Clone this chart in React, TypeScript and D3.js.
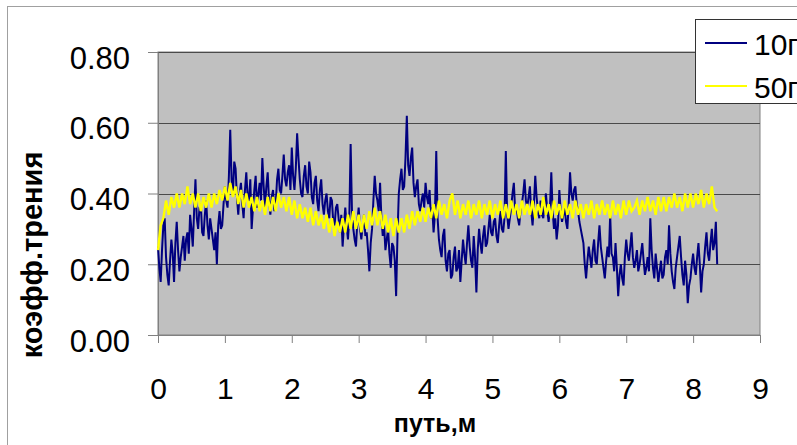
import React, { useEffect, useRef } from "react";
import * as d3 from "d3";

// distance between samples along the path, m
const step10 = 0.02;
const step50 = 0.04;
const seriesNames = ["10г", "50г"];
const seriesColors = ["#000080", "#FFFF00"];
const xTicks = [0, 1, 2, 3, 4, 5, 6, 7, 8, 9];
const yTicks = [0, 0.2, 0.4, 0.6, 0.8];

// коэфф. трения, нагрузка 10г (20 samples per 0.4 m)
const friction10 = [
  0.25, 0.19, 0.15, 0.24, 0.31, 0.33, 0.22, 0.17, 0.14, 0.21, 0.27, 0.23, 0.15, 0.26, 0.32, 0.24, 0.18, 0.22, 0.25, 0.28,
  0.21, 0.27, 0.29, 0.23, 0.34, 0.30, 0.25, 0.35, 0.44, 0.33, 0.30, 0.36, 0.37, 0.29, 0.28, 0.34, 0.38, 0.31, 0.27, 0.33,
  0.30, 0.27, 0.24, 0.29, 0.20, 0.31, 0.35, 0.30, 0.31, 0.37, 0.42, 0.38, 0.36, 0.45, 0.58, 0.44, 0.40, 0.49, 0.47, 0.39,
  0.34, 0.40, 0.43, 0.37, 0.33, 0.41, 0.46, 0.39, 0.38, 0.44, 0.30, 0.36, 0.41, 0.45, 0.36, 0.40, 0.43, 0.38, 0.50, 0.42,
  0.36, 0.42, 0.46, 0.38, 0.34, 0.39, 0.41, 0.35, 0.37, 0.44, 0.47, 0.41, 0.40, 0.45, 0.51, 0.44, 0.42, 0.46, 0.48, 0.41,
  0.53, 0.45, 0.41, 0.47, 0.57, 0.50, 0.44, 0.40, 0.39, 0.45, 0.48, 0.42, 0.40, 0.49, 0.46, 0.39, 0.37, 0.43, 0.45, 0.38,
  0.35, 0.41, 0.44, 0.37, 0.34, 0.38, 0.40, 0.35, 0.33, 0.39, 0.38, 0.32, 0.31, 0.36, 0.37, 0.33, 0.29, 0.34, 0.25, 0.31,
  0.36, 0.31, 0.27, 0.33, 0.54, 0.35, 0.30, 0.27, 0.25, 0.32, 0.36, 0.30, 0.27, 0.31, 0.34, 0.28, 0.29, 0.24, 0.18, 0.26,
  0.30, 0.38, 0.45, 0.40, 0.38, 0.35, 0.43, 0.33, 0.28, 0.31, 0.24, 0.27, 0.30, 0.23, 0.19, 0.26, 0.25, 0.21, 0.11, 0.28,
  0.40, 0.44, 0.47, 0.41, 0.42, 0.50, 0.62, 0.48, 0.45, 0.50, 0.53, 0.43, 0.39, 0.42, 0.44, 0.37, 0.35, 0.38, 0.40, 0.36,
  0.43, 0.39, 0.37, 0.41, 0.33, 0.36, 0.29, 0.34, 0.52, 0.33, 0.27, 0.24, 0.22, 0.28, 0.30, 0.21, 0.18, 0.23, 0.24, 0.16,
  0.17, 0.22, 0.25, 0.18, 0.19, 0.24, 0.15, 0.21, 0.27, 0.23, 0.20, 0.26, 0.31, 0.25, 0.21, 0.19, 0.28, 0.22, 0.12, 0.24,
  0.30, 0.26, 0.23, 0.28, 0.31, 0.25, 0.26, 0.30, 0.34, 0.29, 0.28, 0.32, 0.33, 0.28, 0.26, 0.31, 0.35, 0.30, 0.29, 0.33,
  0.52, 0.34, 0.30, 0.33, 0.36, 0.40, 0.43, 0.35, 0.36, 0.33, 0.31, 0.35, 0.37, 0.40, 0.44, 0.38, 0.36, 0.39, 0.42, 0.35,
  0.31, 0.37, 0.45, 0.39, 0.35, 0.33, 0.38, 0.34, 0.33, 0.37, 0.40, 0.35, 0.32, 0.36, 0.46, 0.35, 0.30, 0.33, 0.27, 0.31,
  0.41, 0.35, 0.32, 0.34, 0.36, 0.32, 0.30, 0.37, 0.46, 0.40, 0.38, 0.41, 0.42, 0.37, 0.35, 0.32, 0.30, 0.28, 0.26, 0.20,
  0.16, 0.21, 0.25, 0.22, 0.19, 0.24, 0.27, 0.21, 0.20, 0.26, 0.31, 0.25, 0.22, 0.19, 0.16, 0.21, 0.25, 0.22, 0.34, 0.23,
  0.22, 0.18, 0.26, 0.19, 0.11, 0.17, 0.20, 0.16, 0.14, 0.22, 0.27, 0.23, 0.21, 0.25, 0.29, 0.22, 0.19, 0.21, 0.24, 0.18,
  0.20, 0.23, 0.26, 0.21, 0.17, 0.19, 0.22, 0.18, 0.33, 0.24, 0.19, 0.16, 0.23, 0.19, 0.15, 0.18, 0.21, 0.16, 0.17, 0.22,
  0.24, 0.20, 0.31, 0.23, 0.18, 0.15, 0.13, 0.19, 0.22, 0.25, 0.28, 0.22, 0.17, 0.14, 0.21, 0.17, 0.09, 0.14, 0.16, 0.20,
  0.23, 0.19, 0.17, 0.22, 0.26, 0.20, 0.12, 0.18, 0.20, 0.25, 0.29, 0.23, 0.21, 0.26, 0.30, 0.24, 0.26, 0.32, 0.20,
];

// коэфф. трения, нагрузка 50г (10 samples per 0.4 m)
const friction50 = [
  0.24, 0.31, 0.33, 0.38, 0.34, 0.39, 0.36, 0.40, 0.36, 0.40,
  0.37, 0.42, 0.37, 0.40, 0.36, 0.40, 0.35, 0.39, 0.36, 0.40,
  0.36, 0.40, 0.37, 0.41, 0.38, 0.42, 0.38, 0.43, 0.39, 0.42,
  0.37, 0.41, 0.36, 0.40, 0.36, 0.39, 0.35, 0.39, 0.35, 0.38,
  0.34, 0.39, 0.35, 0.39, 0.35, 0.40, 0.36, 0.39, 0.35, 0.39,
  0.34, 0.38, 0.33, 0.37, 0.33, 0.36, 0.32, 0.36, 0.31, 0.35,
  0.31, 0.34, 0.30, 0.34, 0.29, 0.33, 0.28, 0.32, 0.29, 0.33,
  0.29, 0.34, 0.30, 0.35, 0.30, 0.34, 0.29, 0.34, 0.30, 0.35,
  0.31, 0.36, 0.31, 0.35, 0.30, 0.34, 0.29, 0.33, 0.28, 0.33,
  0.29, 0.33, 0.29, 0.34, 0.30, 0.35, 0.31, 0.35, 0.32, 0.36,
  0.32, 0.36, 0.33, 0.37, 0.33, 0.38, 0.34, 0.37, 0.33, 0.38,
  0.40, 0.34, 0.38, 0.33, 0.37, 0.34, 0.38, 0.33, 0.37, 0.34,
  0.38, 0.33, 0.37, 0.34, 0.38, 0.33, 0.37, 0.34, 0.38, 0.33,
  0.37, 0.33, 0.38, 0.34, 0.37, 0.33, 0.38, 0.34, 0.37, 0.34,
  0.38, 0.33, 0.37, 0.34, 0.39, 0.34, 0.37, 0.33, 0.38, 0.34,
  0.37, 0.33, 0.38, 0.34, 0.37, 0.33, 0.38, 0.34, 0.37, 0.33,
  0.37, 0.34, 0.38, 0.33, 0.37, 0.34, 0.38, 0.34, 0.37, 0.33,
  0.38, 0.34, 0.37, 0.33, 0.38, 0.34, 0.38, 0.35, 0.36, 0.38,
  0.34, 0.38, 0.35, 0.39, 0.35, 0.38, 0.34, 0.39, 0.35, 0.39,
  0.35, 0.39, 0.36, 0.40, 0.36, 0.39, 0.35, 0.40, 0.36, 0.40,
  0.36, 0.40, 0.37, 0.41, 0.36, 0.40, 0.37, 0.42, 0.36, 0.35,
];

const FONT = "'Liberation Sans', Arial, sans-serif";

const App = () => {
  const ref = useRef<SVGSVGElement>(null);

  useEffect(() => {
    const svg = d3.select(ref.current);
    svg.selectAll("*").remove();

    const width = 797,
      height = 445,
      plot = { left: 158, right: 760, top: 52, bottom: 335 };

    const x = d3.scaleLinear().domain([0, 9]).range([plot.left, plot.right]);
    const y = d3.scaleLinear().domain([0, 0.8]).range([plot.bottom, plot.top]);

    // chart frame (runs past the window on the right and bottom)
    svg.append("rect")
      .attr("x", 7.5).attr("y", 6.5)
      .attr("width", width + 20).attr("height", height + 20)
      .attr("fill", "#fff").attr("stroke", "#a0a0a0");

    // grey plot area
    svg.append("rect")
      .attr("x", plot.left).attr("y", plot.top)
      .attr("width", plot.right - plot.left).attr("height", plot.bottom - plot.top)
      .attr("fill", "#c0c0c0").attr("stroke", "#808080");

    // gridlines
    svg.append("g")
      .selectAll("line")
      .data(yTicks.filter((t) => t > 0))
      .join("line")
      .attr("x1", plot.left).attr("x2", plot.right)
      .attr("y1", (d) => Math.round(y(d)) + 0.5).attr("y2", (d) => Math.round(y(d)) + 0.5)
      .attr("stroke", "#4a4a4a");

    // axes
    const yAxis = svg.append("g")
      .attr("transform", `translate(${plot.left},0)`)
      .call(d3.axisLeft(y).tickValues(yTicks).tickSize(10).tickSizeOuter(0).tickPadding(18).tickFormat(d3.format(".2f")));
    const xAxis = svg.append("g")
      .attr("transform", `translate(0,${plot.bottom})`)
      .call(d3.axisBottom(x).tickValues(xTicks).tickSize(8).tickSizeOuter(0).tickPadding(35).tickFormat(d3.format("d")));
    [yAxis, xAxis].forEach((g) => {
      g.select(".domain").attr("stroke", "#808080");
      g.selectAll(".tick line").attr("stroke", "#808080");
      g.selectAll(".tick text")
        .attr("fill", "#000")
        .attr("font-family", FONT)
        .attr("font-size", 30);
    });
    yAxis.selectAll(".tick text").attr("font-size", 31).attr("dy", "0.52em");

    // series: 10г first, 50г drawn over it
    [
      { vals: friction10, step: step10, width: 2 },
      { vals: friction50, step: step50, width: 2.4 },
    ].forEach((s, k) => {
      const line = d3.line<number>()
        .x((_, i) => x(i * s.step))
        .y((d) => y(d));
      svg.append("path")
        .datum(s.vals)
        .attr("d", line)
        .attr("fill", "none")
        .attr("stroke", seriesColors[k])
        .attr("stroke-width", s.width);
    });

    // axis titles
    svg.append("text")
      .attr("transform", `translate(42,255) rotate(-90)`)
      .attr("text-anchor", "middle")
      .attr("font-family", FONT)
      .attr("font-weight", "bold")
      .attr("font-size", 29)
      .text("коэфф.трения");
    svg.append("text")
      .attr("x", 435).attr("y", 432)
      .attr("text-anchor", "middle")
      .attr("font-family", FONT)
      .attr("font-weight", "bold")
      .attr("font-size", 25)
      .text("путь,м");

    // legend
    const legend = svg.append("g");
    legend.append("rect")
      .attr("x", 695.5).attr("y", 19.5)
      .attr("width", 140).attr("height", 84)
      .attr("fill", "#fff").attr("stroke", "#333");
    seriesNames.forEach((name, k) => {
      const ly = 43 + k * 43;
      legend.append("line")
        .attr("x1", 705).attr("x2", 747)
        .attr("y1", ly).attr("y2", ly)
        .attr("stroke", seriesColors[k]).attr("stroke-width", 2);
      legend.append("text")
        .attr("x", 754).attr("y", ly + 12)
        .attr("font-family", FONT)
        .attr("font-size", 30)
        .text(name);
    });
  }, []);

  return (
    <svg
      ref={ref}
      width={797}
      height={445}
      style={{ position: "absolute", left: 0, top: 0, display: "block" }}
    ></svg>
  );
};

export default App;
